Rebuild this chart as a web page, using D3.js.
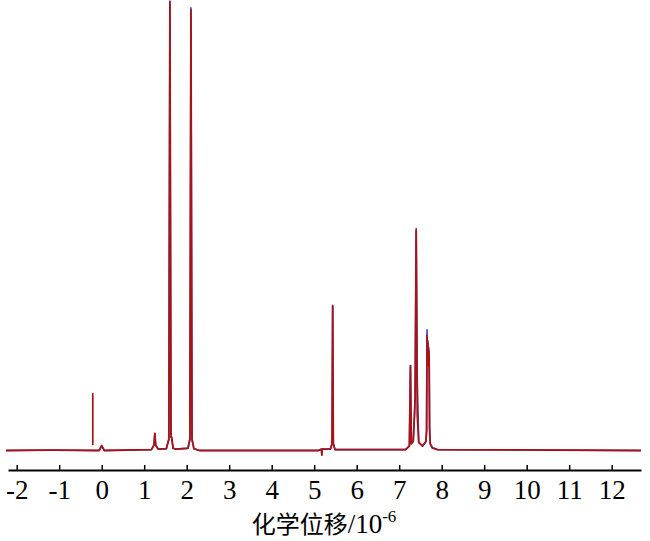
<!DOCTYPE html>
<html>
<head>
<meta charset="utf-8">
<script src="https://cdn.jsdelivr.net/npm/d3@7"></script>
<style>
  html, body { margin: 0; padding: 0; background: #fff; }
  svg { display: block; }
</style>
</head>
<body>
<svg id="chart" width="650" height="541"></svg>
<script>
// ---- data ----
const tickValues = [-2, -1, 0, 1, 2, 3, 4, 5, 6, 7, 8, 9, 10, 11, 12];
const xTitleCJK = "化学位移";
const xTitleUnit = "/10";
const xTitleSup = "-6";

const ppm  = [-2.25, -1.2, -0.06, 0.0, 0.06, 1.17, 1.23, 1.25, 1.27, 1.33, 1.52, 1.58, 1.605, 1.63, 1.645, 1.68, 1.75, 2.03, 2.075, 2.10, 2.125, 2.17, 2.3, 5.10, 5.17, 5.18, 5.19, 5.38, 5.42, 5.435, 5.45, 5.49, 7.15, 7.24, 7.265, 7.285, 7.33, 7.36, 7.375, 7.40, 7.425, 7.46, 7.55, 7.63, 7.645, 7.655, 7.665, 7.675, 7.685, 7.695, 7.705, 7.715, 7.73, 7.78, 7.9, 12.69];
const red  = [0, 0.1, 0, 1.1, 0, 0.2, 1.2, 3.8, 1.2, 0.3, 0.4, 2.5, 100, 3.0, 3.0, 0.5, 0.3, 0.5, 2.5, 98.2, 2.5, 0.4, 0, 0, 0.3, -1.0, 0.3, 0.3, 1.5, 32.2, 1.5, 0.2, 0.2, 1.0, 18.9, 1.5, 2.0, 8.0, 11.9, 49.0, 8.0, 1.8, 1.0, 2.0, 4.5, 25.7, 20, 24, 19, 22.4, 21, 5, 1.5, 0.6, 0.2, 0];
const blue = [0, 0.1, 0, 1.1, 0, 0.2, 1.2, 3.8, 1.2, 0.3, 0.4, 2.5, 100.2, 3.0, 3.0, 0.5, 0.3, 0.5, 2.5, 98.7, 2.5, 0.4, 0, 0, 0.3, -1.0, 0.3, 0.3, 1.5, 32.4, 1.5, 0.2, 0.2, 1.0, 18.9, 1.5, 2.0, 8.0, 11.9, 49.5, 16.0, 1.8, 1.0, 2.0, 4.5, 26.9, 20, 24.5, 19, 23.0, 21, 5, 1.5, 0.6, 0.2, 0];

// isolated vertical stick near -0.2 ppm
const stickPpm = [-0.21];
const stickTop = [12.8];
const stickBottom = [1.2];

// ---- layout ----
const SERIF = '"Liberation Serif", "Times New Roman", serif';
const CJK = '"Noto Sans CJK SC", sans-serif';

const svg = d3.select("#chart");
const x = d3.scaleLinear().domain([-2.205, 12.69]).range([8, 641]);
const y = d3.scaleLinear().domain([0, 100]).range([450.5, 2]);

const line = d3.line().x(d => x(d[0])).y(d => y(d[1]));

svg.append("path")
  .datum(ppm.map((p, i) => [p, blue[i]]))
  .attr("d", line)
  .attr("fill", "none")
  .attr("stroke", "#3a44d6")
  .attr("stroke-width", 1.6)
  .attr("stroke-linejoin", "round");

svg.append("path")
  .datum(ppm.map((p, i) => [p, red[i]]))
  .attr("d", line)
  .attr("fill", "none")
  .attr("stroke", "#a81414")
  .attr("stroke-width", 1.8)
  .attr("stroke-linejoin", "round");

svg.selectAll("line.stick")
  .data(stickPpm.map((p, i) => ({p, t: stickTop[i], b: stickBottom[i]})))
  .join("line")
  .attr("class", "stick")
  .attr("x1", d => x(d.p)).attr("x2", d => x(d.p))
  .attr("y1", d => y(d.t)).attr("y2", d => y(d.b))
  .attr("stroke", "#a81414")
  .attr("stroke-width", 1.7);

// ---- axis ----
const axis = d3.axisBottom(x)
  .tickValues(tickValues)
  .tickFormat(d => String(d))
  .tickSizeInner(-5)
  .tickSizeOuter(0)
  .tickPadding(10);

const gx = svg.append("g")
  .attr("transform", "translate(0,470)")
  .call(axis);
gx.select(".domain").attr("stroke", "#000").attr("stroke-width", 2);
gx.selectAll(".tick line").attr("stroke", "#000").attr("stroke-width", 1.5);
gx.selectAll(".tick text")
  .attr("fill", "#000")
  .attr("y", 29)
  .attr("dy", null)
  .style("font-family", SERIF)
  .style("font-size", "27px");

const title = svg.append("text")
  .attr("x", 324)
  .attr("y", 533)
  .attr("text-anchor", "middle")
  .attr("fill", "#000")
  .style("font-family", SERIF)
  .style("font-size", "24px");
title.append("tspan").style("font-family", CJK).style("font-size", "24px").text(xTitleCJK);
title.append("tspan").style("font-family", SERIF).style("font-size", "27px").text(xTitleUnit);
title.append("tspan")
  .style("font-family", SERIF)
  .attr("dy", -11)
  .style("font-size", "17px")
  .text(xTitleSup);
</script>
</body>
</html>
